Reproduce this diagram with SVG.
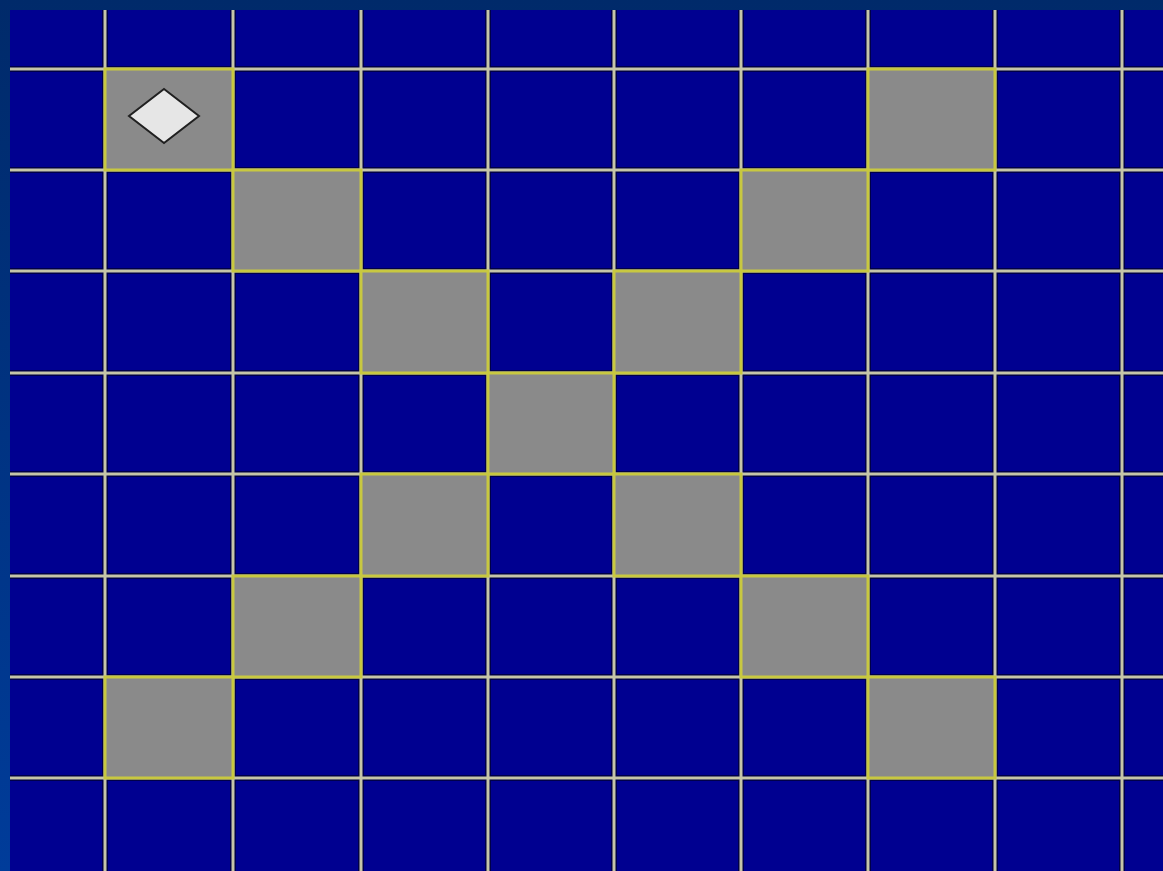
<svg xmlns="http://www.w3.org/2000/svg" width="1163" height="871" viewBox="0 0 1163 871">
  <defs>
    <linearGradient id="frame" x1="0" y1="0" x2="0" y2="1">
      <stop offset="0" stop-color="#002a6a"/>
      <stop offset="1" stop-color="#003c9a"/>
    </linearGradient>
    <style>
      .cell{fill:#8a8a8a;stroke:#c8c840;stroke-width:3}
      .shadow{stroke:#000048;stroke-width:6}
      .line{stroke:#c6c6a8;stroke-width:3}
    </style>
  </defs>
  <rect x="0" y="0" width="1163" height="871" fill="url(#frame)"/>
  <rect x="10" y="10" width="1153" height="861" fill="#000090"/>
  <g id="grid-shadow" class="shadow">
    <line x1="105" y1="10" x2="105" y2="871"/>
    <line x1="233" y1="10" x2="233" y2="871"/>
    <line x1="361" y1="10" x2="361" y2="871"/>
    <line x1="488" y1="10" x2="488" y2="871"/>
    <line x1="614" y1="10" x2="614" y2="871"/>
    <line x1="741" y1="10" x2="741" y2="871"/>
    <line x1="868" y1="10" x2="868" y2="871"/>
    <line x1="995" y1="10" x2="995" y2="871"/>
    <line x1="1122" y1="10" x2="1122" y2="871"/>
    <line x1="10" y1="69" x2="1163" y2="69"/>
    <line x1="10" y1="170" x2="1163" y2="170"/>
    <line x1="10" y1="271" x2="1163" y2="271"/>
    <line x1="10" y1="373" x2="1163" y2="373"/>
    <line x1="10" y1="474" x2="1163" y2="474"/>
    <line x1="10" y1="576" x2="1163" y2="576"/>
    <line x1="10" y1="677" x2="1163" y2="677"/>
    <line x1="10" y1="778" x2="1163" y2="778"/>
  </g>
  <g id="grid" class="line">
    <line x1="105" y1="10" x2="105" y2="871"/>
    <line x1="233" y1="10" x2="233" y2="871"/>
    <line x1="361" y1="10" x2="361" y2="871"/>
    <line x1="488" y1="10" x2="488" y2="871"/>
    <line x1="614" y1="10" x2="614" y2="871"/>
    <line x1="741" y1="10" x2="741" y2="871"/>
    <line x1="868" y1="10" x2="868" y2="871"/>
    <line x1="995" y1="10" x2="995" y2="871"/>
    <line x1="1122" y1="10" x2="1122" y2="871"/>
    <line x1="10" y1="69" x2="1163" y2="69"/>
    <line x1="10" y1="170" x2="1163" y2="170"/>
    <line x1="10" y1="271" x2="1163" y2="271"/>
    <line x1="10" y1="373" x2="1163" y2="373"/>
    <line x1="10" y1="474" x2="1163" y2="474"/>
    <line x1="10" y1="576" x2="1163" y2="576"/>
    <line x1="10" y1="677" x2="1163" y2="677"/>
    <line x1="10" y1="778" x2="1163" y2="778"/>
  </g>
  <g id="cells">
    <rect class="cell" x="105" y="69" width="128" height="101"/>
    <rect class="cell" x="868" y="69" width="127" height="101"/>
    <rect class="cell" x="233" y="170" width="128" height="101"/>
    <rect class="cell" x="741" y="170" width="127" height="101"/>
    <rect class="cell" x="361" y="271" width="127" height="102"/>
    <rect class="cell" x="614" y="271" width="127" height="102"/>
    <rect class="cell" x="488" y="373" width="126" height="101"/>
    <rect class="cell" x="361" y="474" width="127" height="102"/>
    <rect class="cell" x="614" y="474" width="127" height="102"/>
    <rect class="cell" x="233" y="576" width="128" height="101"/>
    <rect class="cell" x="741" y="576" width="127" height="101"/>
    <rect class="cell" x="105" y="677" width="128" height="101"/>
    <rect class="cell" x="868" y="677" width="127" height="101"/>
  </g>
  <g id="diamond">
    <polygon points="164,89 199,116 164,143 129,116" fill="#e6e6e6" stroke="#202020" stroke-width="2"/>
  </g>
</svg>
